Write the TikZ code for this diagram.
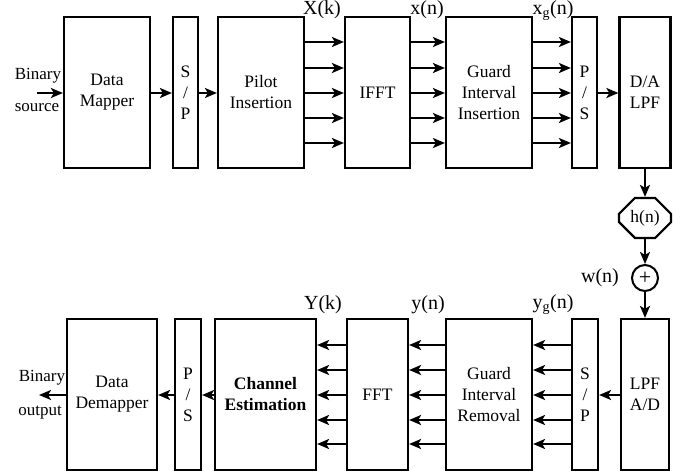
\documentclass[tikz,border=0pt]{standalone}
\usepackage{fontspec}
\setmainfont{Liberation Serif}
\usetikzlibrary{arrows.meta,shapes.misc}
\begin{document}
\begin{tikzpicture}[x=1bp,y=-1bp,
  box/.style={draw,line width=2.2bp,inner sep=0pt,align=center,font=\fontsize{17.5bp}{21bp}\selectfont},
  lbl/.style={inner sep=0pt,font=\fontsize{20bp}{24bp}\selectfont},
  txt/.style={inner sep=0pt,font=\fontsize{17bp}{21bp}\selectfont},
  arr/.style={line width=2.2bp,-{Stealth[length=12bp,width=10bp,inset=3bp]}}]
\useasboundingbox (0,0) rectangle (689,476);
% top row
\node[box,minimum width=86bp,minimum height=151bp] (dm) at (107,92.5) {Data\\Mapper};
\node[box,minimum width=25bp,minimum height=151bp] (sp1) at (185.5,92.5) {S\\/\\P};
\node[box,minimum width=86bp,minimum height=151bp] (pi) at (261,92.5) {Pilot\\Insertion};
\node[box,minimum width=65bp,minimum height=151bp] (ifft) at (377.5,92.5) {IFFT};
\node[box,minimum width=86bp,minimum height=151bp] (gii) at (489,92.5) {Guard\\Interval\\Insertion};
\node[box,minimum width=25bp,minimum height=151bp] (ps1) at (584.5,92.5) {P\\/\\S};
\node[box,minimum width=51bp,minimum height=151bp] (da) at (645,92.5) {D/A\\LPF};
% channel
\node[box,chamfered rectangle,chamfered rectangle xsep=8bp,chamfered rectangle ysep=8bp,minimum width=52bp,minimum height=40bp] (h) at (645,218) {h(n)};
\node[draw,circle,line width=2bp,minimum size=26bp,inner sep=0pt,font=\fontsize{22bp}{22bp}\selectfont] (sum) at (645,278) {+};
\node[lbl] (w) at (600,278) {w(n)};
% bottom row
\node[box,minimum width=90bp,minimum height=151bp] (ddm) at (112,394.5) {Data\\Demapper};
\node[box,minimum width=26bp,minimum height=151bp] (ps2) at (188,394.5) {P\\/\\S};
\node[box,minimum width=101bp,minimum height=151bp,font=\fontsize{17.5bp}{21bp}\selectfont\bfseries] (ce) at (265.5,394.5) {Channel\\Estimation};
\node[box,minimum width=61bp,minimum height=151bp] (fft) at (377.5,394.5) {FFT};
\node[box,minimum width=86bp,minimum height=151bp] (gir) at (489,394.5) {Guard\\Interval\\Removal};
\node[box,minimum width=26bp,minimum height=151bp] (sp2) at (585,394.5) {S\\/\\P};
\node[box,minimum width=48bp,minimum height=151bp] (ad) at (645,394.5) {LPF\\A/D};
% labels
\node[lbl,anchor=north] (Xk) at (322,0.5) {X(k)};
\node[lbl,anchor=north] (xn) at (427,0.5) {x(n)};
\node[lbl,anchor=north] (xgn) at (553,0.5) {x\textsubscript{g}(n)};
\node[lbl] (Yk) at (323,305) {Y(k)};
\node[lbl] (yn) at (428,305) {y(n)};
\node[lbl] (ygn) at (553,305) {y\textsubscript{g}(n)};
\node[txt] (bin1) at (38,76) {Binary};
\node[txt] (src) at (37,108) {source};
\node[txt] (bin2) at (42,378) {Binary};
\node[txt] (out) at (40,413) {output};
\coordinate (inS) at (37,93);
\coordinate (outE) at (39,395);
% top arrows
\draw[arr] (inS) -- (dm.west |- inS);
\draw[arr] (dm.east |- inS) -- (sp1.west |- inS);
\draw[arr] (sp1.east |- inS) -- (pi.west |- inS);
\foreach \y in {42,68,93,118,143}{
  \draw[arr] (pi.east |- 0,\y) -- (ifft.west |- 0,\y);
  \draw[arr] (ifft.east |- 0,\y) -- (gii.west |- 0,\y);
  \draw[arr] (gii.east |- 0,\y) -- (ps1.west |- 0,\y);
}
\draw[arr] (ps1.east |- inS) -- (da.west |- inS);
\draw[arr] (da.south) -- (h.north);
\draw[arr] (h.south) -- (sum.north);
\draw[arr] (sum.south) -- (ad.north);
% bottom arrows
\foreach \y in {345,370,395,420,444}{
  \draw[arr] (sp2.west |- 0,\y) -- (gir.east |- 0,\y);
  \draw[arr] (gir.west |- 0,\y) -- (fft.east |- 0,\y);
  \draw[arr] (fft.west |- 0,\y) -- (ce.east |- 0,\y);
}
\draw[arr] (ad.west |- outE) -- (sp2.east |- outE);
\draw[arr] (ce.west |- outE) -- (ps2.east |- outE);
\draw[arr] (ps2.west |- outE) -- (ddm.east |- outE);
\draw[arr] (ddm.west |- outE) -- (outE);
\end{tikzpicture}
\end{document}
